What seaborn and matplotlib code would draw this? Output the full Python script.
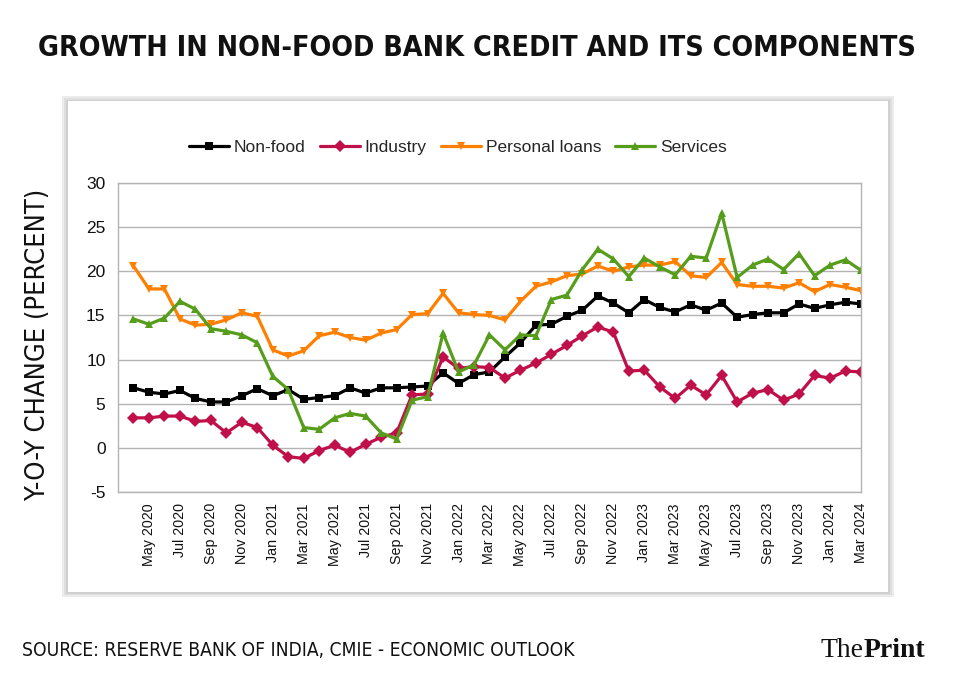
import matplotlib
matplotlib.use("Agg")
import matplotlib.pyplot as plt
from matplotlib import font_manager
from matplotlib.patches import Rectangle
import seaborn as sns
import pandas as pd

# monthly y-o-y growth, Apr 2020 .. Mar 2024
months = pd.date_range("2020-04-01", periods=48, freq="MS").strftime("%b %Y").tolist()

non_food = [6.8, 6.3, 6.1, 6.5, 5.6, 5.2, 5.2, 5.9, 6.7, 5.9, 6.6, 5.5,
            5.7, 5.9, 6.8, 6.2, 6.8, 6.8, 6.9, 7.0, 8.5, 7.3, 8.3, 8.6,
            10.3, 11.9, 13.9, 14.0, 14.9, 15.6, 17.2, 16.4, 15.3, 16.8, 15.9, 15.4,
            16.2, 15.6, 16.4, 14.8, 15.1, 15.3, 15.3, 16.3, 15.8, 16.2, 16.5, 16.3]
industry = [3.4, 3.4, 3.6, 3.6, 3.0, 3.1, 1.7, 2.9, 2.3, 0.3, -1.0, -1.2,
            -0.3, 0.3, -0.5, 0.4, 1.2, 1.7, 6.0, 6.1, 10.3, 9.0, 9.2, 9.1,
            7.9, 8.8, 9.6, 10.6, 11.6, 12.7, 13.7, 13.1, 8.7, 8.8, 6.9, 5.6,
            7.1, 6.0, 8.2, 5.2, 6.2, 6.6, 5.4, 6.1, 8.2, 7.9, 8.7, 8.6]
personal = [20.6, 18.0, 18.0, 14.6, 13.9, 14.0, 14.5, 15.3, 14.9, 11.1, 10.4, 11.0,
            12.7, 13.1, 12.5, 12.2, 13.0, 13.4, 15.1, 15.2, 17.5, 15.3, 15.1, 15.0,
            14.5, 16.6, 18.3, 18.8, 19.5, 19.7, 20.6, 20.0, 20.5, 20.7, 20.7, 21.1,
            19.5, 19.3, 21.0, 18.5, 18.3, 18.3, 18.1, 18.7, 17.7, 18.5, 18.2, 17.8]
services = [14.6, 14.0, 14.7, 16.6, 15.7, 13.5, 13.2, 12.8, 11.9, 8.1, 6.6, 2.3,
            2.1, 3.4, 3.9, 3.6, 1.7, 1.0, 5.4, 5.8, 13.0, 8.6, 9.4, 12.8,
            11.1, 12.8, 12.7, 16.8, 17.3, 20.2, 22.5, 21.4, 19.4, 21.5, 20.5, 19.6,
            21.7, 21.5, 26.6, 19.3, 20.7, 21.4, 20.2, 22.0, 19.5, 20.7, 21.3, 20.1]

series = ["Non-food", "Industry", "Personal loans", "Services"]
colors = {"Non-food": "#000000", "Industry": "#c0104a",
          "Personal loans": "#ff8000", "Services": "#579d1c"}
markers = {"Non-food": "s", "Industry": "D", "Personal loans": "v", "Services": "^"}

df = pd.DataFrame({"m": list(range(48)) * 4,
                   "val": non_food + industry + personal + services,
                   "series": [s for s in series for _ in range(48)]})

sns.set_theme(style="white")
plt.rcParams["font.family"] = ["Liberation Sans", "DejaVu Sans"]
plt.rcParams["axes.unicode_minus"] = False

# condensed face for the headline texts, if one is installed
narrow_files = [f for f in font_manager.fontManager.ttflist
                if ("Narrow" in f.name or "ondensed" in f.fname or f.stretch == "condensed")
                and f.style == "normal"]
reg = [f for f in narrow_files if f.weight in (400, "normal", "regular")]
bold = [f for f in narrow_files if f.weight in (700, "bold")]
has_narrow = bool(reg)
narrow_reg = font_manager.FontProperties(fname=reg[0].fname) if reg else font_manager.FontProperties(family="DejaVu Sans")
narrow_bold = font_manager.FontProperties(fname=bold[0].fname) if bold else font_manager.FontProperties(family="DejaVu Sans", weight="bold")
shrink = 1.0 if has_narrow else 0.85

fig = plt.figure(figsize=(9.54, 6.75), dpi=100)
fig.patch.set_facecolor("white")

# chart frame with a soft shadow
for off, c in [(0.006, "#ececec"), (0.004, "#dedede"), (0.002, "#d0d0d0")]:
    fig.patches.append(Rectangle((0.0713 - off, 0.123 - off * 1.2), 0.86 + 2 * off, 0.727 + 2 * off * 1.2,
                                 transform=fig.transFigure, facecolor=c, edgecolor="none", zorder=0))
fig.patches.append(Rectangle((0.0713, 0.123), 0.86, 0.727, transform=fig.transFigure,
                             facecolor="white", edgecolor="none", zorder=0))

ax = fig.add_axes([0.1237, 0.2711, 0.7788, 0.4578])
ax.set_zorder(2)
ax.set_facecolor("none")
sns.lineplot(data=df, x="m", y="val", hue="series", style="series", hue_order=series,
             style_order=series, palette=colors, markers=markers, dashes=False,
             linewidth=2.3, markersize=6, mew=0, ax=ax, legend=False)

ax.set_xlim(-1, 47)
ax.set_ylim(-5, 30)
ax.set_yticks(range(-5, 31, 5))
ax.set_xticks(range(48))
ax.set_xticklabels([m if i % 2 == 1 else "" for i, m in enumerate(months)], rotation=90)
ax.tick_params(axis="both", direction="out", length=5, width=1, color="#b3b3b3",
               labelcolor="#111111")
ax.tick_params(axis="y", labelsize=12.5, pad=4)
ax.tick_params(axis="x", labelsize=10.3, pad=3)
ax.grid(axis="y", color="#b3b3b3", linewidth=1)
for sp in ax.spines.values():
    sp.set_color("#b3b3b3")
    sp.set_linewidth(1)
ax.set_xlabel("")
ax.set_ylabel("")

handles = [plt.Line2D([], [], color=colors[s], marker=markers[s], lw=2.3, ms=6, mew=0)
           for s in series]
leg = fig.legend(handles, series, loc="center", bbox_to_anchor=(0.480, 0.781), ncol=4,
                 frameon=False, fontsize=12.5, handlelength=2.3, handletextpad=0.3,
                 columnspacing=0.8)
leg.set_zorder(3)

narrow_bold.set_size(20.5 * shrink)
fig.text(0.5, 0.929, "GROWTH IN NON-FOOD BANK CREDIT AND ITS COMPONENTS", ha="center",
         va="center", fontproperties=narrow_bold, color="#111111")
narrow_reg.set_size(19.5 * shrink)
fig.text(0.04, 0.489, "Y-O-Y CHANGE (PERCENT)", rotation=90, ha="center", va="center",
         fontproperties=narrow_reg, color="#111111", zorder=3)
foot = narrow_reg.copy()
foot.set_size(13.8 * shrink)
fig.text(0.023, 0.037, "SOURCE: RESERVE BANK OF INDIA, CMIE - ECONOMIC OUTLOOK",
         ha="left", va="center", fontproperties=foot, color="#111111")
t = fig.text(0.86, 0.037, "The", ha="left", va="center", fontsize=20,
             family=["Liberation Serif", "DejaVu Serif"], color="#111111")
plt.annotate("Print", xy=(1, 0), xycoords=t, ha="left", va="bottom", fontsize=20,
             fontweight="bold", family=["Liberation Serif", "DejaVu Serif"], color="#111111",
             annotation_clip=False)

fig.savefig("out.png", dpi=100, facecolor="white")
